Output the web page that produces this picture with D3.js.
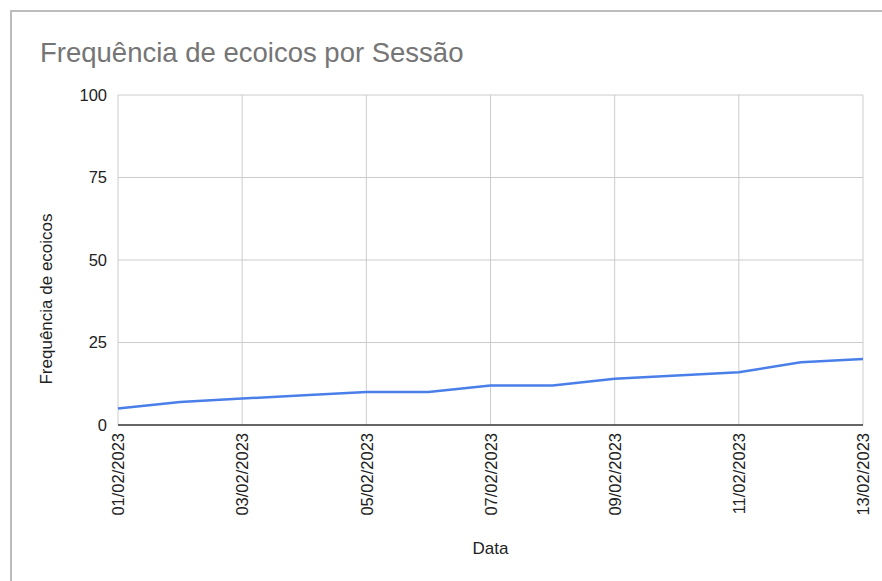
<!DOCTYPE html>
<html>
<head>
<meta charset="utf-8">
<script src="https://cdn.jsdelivr.net/npm/d3@7"></script>
<style>
  html, body { margin: 0; padding: 0; background: #fff; }
  svg { display: block; font-family: "Liberation Sans", Arial, sans-serif; }
</style>
</head>
<body>
<svg id="chart" width="882" height="581"></svg>
<script>
// Session dates and echoic counts
const dates = ["01/02/2023","02/02/2023","03/02/2023","04/02/2023","05/02/2023","06/02/2023","07/02/2023",
               "08/02/2023","09/02/2023","10/02/2023","11/02/2023","12/02/2023","13/02/2023"];
const ecoicos = [5, 7, 8, 9, 10, 10, 12, 12, 14, 15, 16, 19, 20];
const yTicks = [0, 25, 50, 75, 100];
const xTickLabels = ["01/02/2023","03/02/2023","05/02/2023","07/02/2023","09/02/2023","11/02/2023","13/02/2023"];

const svg = d3.select("#chart");
const margin = { left: 118, right: 19, top: 95, bottom: 156 };
const W = 882, H = 581;
const x0 = margin.left, x1 = W - margin.right, y0 = H - margin.bottom, y1 = margin.top;
const FONT = "Liberation Sans, Arial, sans-serif";

// Frame around the chart
svg.append("path")
  .attr("d", `M11,581 L11,11 L882,11`)
  .attr("fill", "none").attr("stroke", "#bdbdbd").attr("stroke-width", 2);

const x = d3.scalePoint().domain(dates).range([x0, x1]);
const y = d3.scaleLinear().domain([0, 100]).range([y0, y1]);

// Horizontal gridlines
svg.append("g").selectAll("line").data(yTicks.filter(d => d !== 0)).join("line")
  .attr("x1", x0).attr("x2", x1)
  .attr("y1", d => y(d)).attr("y2", d => y(d))
  .attr("stroke", "#cccccc").attr("stroke-width", 1);

// Vertical gridlines at labelled dates
svg.append("g").selectAll("line").data(xTickLabels).join("line")
  .attr("x1", d => x(d)).attr("x2", d => x(d))
  .attr("y1", y1).attr("y2", y0)
  .attr("stroke", "#cccccc").attr("stroke-width", 1);

// Y axis tick labels
const yAxis = d3.axisLeft(y).tickValues(yTicks).tickSize(0).tickPadding(11);
const gy = svg.append("g").attr("transform", `translate(${x0},0)`).call(yAxis);
gy.select(".domain").remove();
gy.selectAll("text").attr("font-size", 16.5).attr("fill", "#222").attr("font-family", FONT);

// X axis with rotated date labels
const xAxis = d3.axisBottom(x).tickValues(xTickLabels).tickSize(0).tickPadding(0);
const gx = svg.append("g").attr("transform", `translate(0,${y0})`).call(xAxis);
gx.select(".domain").remove();
gx.selectAll("text")
  .attr("font-size", 16.5).attr("fill", "#222")
  .attr("font-family", FONT)
  .attr("transform", "rotate(-90)")
  .attr("text-anchor", "end")
  .attr("x", -8).attr("y", 0).attr("dy", "0.35em");

// Baseline
svg.append("line")
  .attr("x1", x0).attr("x2", x1).attr("y1", y0).attr("y2", y0)
  .attr("stroke", "#333").attr("stroke-width", 1.5);

// Data line
const line = d3.line().x((d, i) => x(dates[i])).y(d => y(d));
svg.append("path")
  .datum(ecoicos)
  .attr("d", line)
  .attr("fill", "none")
  .attr("stroke", "#4a7fea")
  .attr("stroke-width", 2.5)
  .attr("stroke-linejoin", "round");

// Title
svg.append("text")
  .attr("x", 40).attr("y", 62)
  .attr("font-size", 27.5).attr("fill", "#757575")
  .text("Frequência de ecoicos por Sessão");

// Axis titles
svg.append("text")
  .attr("x", (x0 + x1) / 2).attr("y", 554)
  .attr("text-anchor", "middle").attr("font-size", 17).attr("fill", "#222")
  .text("Data");

svg.append("text")
  .attr("transform", `translate(52,299) rotate(-90)`)
  .attr("text-anchor", "middle").attr("font-size", 17).attr("fill", "#222")
  .text("Frequência de ecoicos");
</script>
</body>
</html>
